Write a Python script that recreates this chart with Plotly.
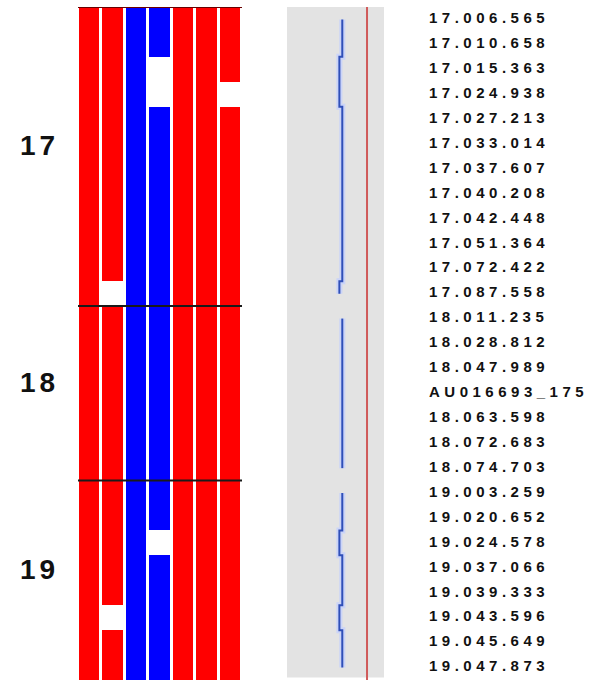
import plotly.graph_objects as go

# Markers, top to bottom, and the chromosome each belongs to
markers = [
    "17.006.565", "17.010.658", "17.015.363", "17.024.938", "17.027.213",
    "17.033.014", "17.037.607", "17.040.208", "17.042.448", "17.051.364",
    "17.072.422", "17.087.558",
    "18.011.235", "18.028.812", "18.047.989", "AU016693_175", "18.063.598",
    "18.072.683", "18.074.703",
    "19.003.259", "19.020.652", "19.024.578", "19.037.066", "19.039.333",
    "19.043.596", "19.045.649", "19.047.873",
]
chromosomes = ["17"] * 12 + ["18"] * 7 + ["19"] * 8

# Genotype calls per sample column: A = red allele, B = blue allele, - = no call
samples = ["s1", "s2", "s3", "s4", "s5", "s6", "s7"]
genotypes = [
    "AAAAAAAAAAAAAAAAAAAAAAAAAAA",
    "AAAAAAAAAAA-AAAAAAAAAAAA-AA",
    "BBBBBBBBBBBBBBBBBBBBBBBBBBB",
    "BB--BBBBBBBBBBBBBBBBB-BBBBB",
    "AAAAAAAAAAAAAAAAAAAAAAAAAAA",
    "AAAAAAAAAAAAAAAAAAAAAAAAAAA",
    "AAA-AAAAAAAAAAAAAAAAAAAAAAA",
]

# Per-marker score profile and its threshold
score = [
    0.57, 0.57, 0.54, 0.54, 0.57, 0.57, 0.57, 0.57, 0.57, 0.57, 0.57, 0.54,
    0.57, 0.57, 0.57, 0.57, 0.57, 0.57, 0.57,
    0.57, 0.57, 0.54, 0.57, 0.57, 0.54, 0.57, 0.57,
]
threshold = 0.825

W, H = 596, 686
TOP, BOTTOM = 7, 680
n = len(markers)

code = {"A": 0, "B": 1, "-": None}
z = [[code[genotypes[c][r]] for c in range(len(samples))] for r in range(n)]

fig = go.Figure()

# Genotype grid
fig.add_trace(go.Heatmap(
    z=z, x=samples, y=markers,
    colorscale=[[0, "#ff0000"], [0.5, "#ff0000"], [0.5, "#0000ff"], [1, "#0000ff"]],
    zmin=0, zmax=1, showscale=False, xgap=3, ygap=0,
    hoverinfo="skip", xaxis="x", yaxis="y",
))

# Score profile, one segment per chromosome
chrom_order = []
for ch in chromosomes:
    if ch not in chrom_order:
        chrom_order.append(ch)
for ch in chrom_order:
    idx = [i for i, c in enumerate(chromosomes) if c == ch]
    ys = [markers[i] for i in idx]
    xs = [score[i] for i in idx]
    fig.add_trace(go.Scatter(
        x=xs, y=ys, mode="lines", xaxis="x2", yaxis="y",
        line=dict(color="rgba(200,210,250,0.9)", width=6, shape="vhv"),
        hoverinfo="skip", showlegend=False,
    ))
    fig.add_trace(go.Scatter(
        x=xs, y=ys, mode="lines", xaxis="x2", yaxis="y",
        line=dict(color="#2f4fb8", width=2, shape="vhv"),
        hoverinfo="skip", showlegend=False,
    ))

# Marker names
fig.add_trace(go.Scatter(
    x=[0] * n, y=markers, mode="text", xaxis="x3", yaxis="y",
    text=[f'<span style="letter-spacing:4.5px">{m}</span>' for m in markers],
    textposition="middle right",
    textfont=dict(family="Liberation Sans, Arial, sans-serif", size=15,
                  color="#111111", weight="bold"),
    hoverinfo="skip", showlegend=False,
))

shapes = []
# Grey background of the score panel
shapes.append(dict(type="rect", xref="x2 domain", yref="y", x0=0, x1=1,
                   y0=-0.5, y1=n - 0.6, fillcolor="#e3e3e3", line=dict(width=0),
                   layer="below"))
# Threshold line
shapes.append(dict(type="line", xref="x2", yref="y", x0=threshold, x1=threshold,
                   y0=-0.5, y1=n - 0.5, line=dict(color="#d05a5a", width=2)))
# Chromosome boundaries across the grid
shapes.append(dict(type="line", xref="x domain", yref="y", x0=0, x1=1,
                   y0=-0.5, y1=-0.5, line=dict(color="#6a0000", width=2)))
for i in range(1, n):
    if chromosomes[i] != chromosomes[i - 1]:
        shapes.append(dict(type="line", xref="x domain", yref="y", x0=0, x1=1,
                           y0=i - 0.5, y1=i - 0.5, line=dict(color="#1a1a1a", width=2)))

# Chromosome names beside their blocks
annotations = []
for ch in chrom_order:
    idx = [i for i, c in enumerate(chromosomes) if c == ch]
    mid = (idx[0] + idx[-1]) / 2
    annotations.append(dict(
        x=39 / W, xref="paper", y=mid, yref="y", yshift=11,
        text=f'<span style="letter-spacing:4px">{ch}</span>', showarrow=False,
        xanchor="center", yanchor="middle",
        font=dict(family="Liberation Sans, Arial, sans-serif", size=28,
                  color="#111111", weight="bold"),
    ))

hidden = dict(visible=False, showgrid=False, zeroline=False)
fig.update_layout(
    width=W, height=H,
    margin=dict(l=0, r=0, t=0, b=0),
    paper_bgcolor="white", plot_bgcolor="white",
    showlegend=False,
    xaxis=dict(domain=[78 / W, 242 / W], range=[-0.5, len(samples) - 0.5], **hidden),
    yaxis=dict(domain=[1 - BOTTOM / H, 1 - TOP / H], range=[n - 0.5, -0.5],
               type="category", **hidden),
    xaxis2=dict(domain=[287 / W, 384 / W], range=[0, 1], anchor="y", **hidden),
    xaxis3=dict(domain=[429 / W, 1], range=[0, 1], anchor="y", **hidden),
    shapes=shapes,
    annotations=annotations,
)

fig.write_html("out.html")
